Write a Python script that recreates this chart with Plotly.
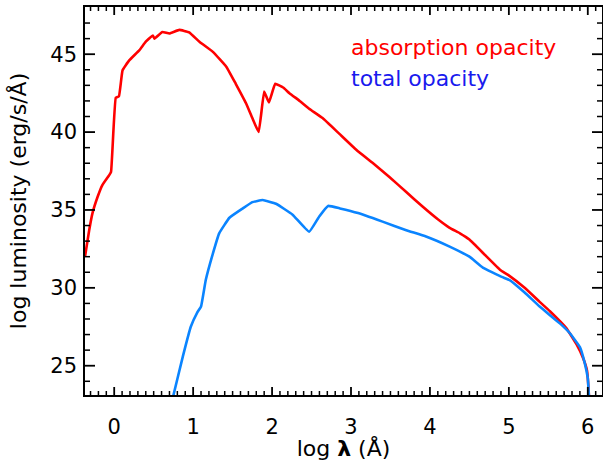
import numpy as np
import plotly.graph_objects as go

# absorption opacity (red)
abs_x = [-0.37, -0.317, -0.275, -0.21, -0.15, -0.063, -0.04, 0.02, 0.06, 0.106, 0.19, 0.32, 0.40,
         0.49, 0.51, 0.61, 0.70, 0.825, 0.95, 1.08, 1.25, 1.42, 1.54, 1.67, 1.75, 1.83, 1.90, 1.96,
         2.04, 2.14, 2.22, 2.35, 2.47, 2.64, 2.85, 3.07, 3.28, 3.49, 3.70, 3.91, 4.10, 4.25, 4.38,
         4.50, 4.70, 4.89, 4.99, 5.20, 5.39, 5.52, 5.73, 5.86, 5.94, 5.99, 6.01, 6.02]
abs_y = [32.0, 33.7, 34.8, 35.85, 36.6, 37.24, 37.45, 42.2, 42.3, 43.97, 44.6, 45.26, 45.8,
         46.2, 46.0, 46.43, 46.33, 46.56, 46.4, 45.8, 45.15, 44.2, 43.1, 41.85, 40.9, 40.0, 42.6, 41.9,
         43.1, 42.86, 42.5, 42.0, 41.5, 40.9, 39.9, 38.85, 38.0, 37.1, 36.15, 35.2, 34.4, 33.85, 33.5,
         33.1, 32.1, 31.15, 30.83, 30.0, 29.1, 28.5, 27.4, 26.35, 25.5, 24.7, 23.5, 22.5]

# total opacity (blue)
tot_x = [0.72, 0.75, 0.87, 0.97, 1.05, 1.10, 1.16, 1.25, 1.33, 1.46, 1.63, 1.75, 1.88, 2.05, 2.26,
         2.47, 2.60, 2.71, 2.86, 3.09, 3.40, 3.70, 3.95, 4.25, 4.50, 4.67, 4.91, 5.01, 5.20, 5.39,
         5.65, 5.77, 5.90, 5.96, 6.00, 6.02]
tot_y = [22.5, 23.1, 25.6, 27.5, 28.4, 28.8, 30.5, 32.2, 33.5, 34.5, 35.1, 35.5, 35.64, 35.4, 34.7,
         33.6, 34.6, 35.26, 35.1, 34.8, 34.25, 33.7, 33.3, 32.65, 32.0, 31.3, 30.7, 30.5, 29.7, 28.8,
         27.7, 27.1, 26.2, 25.2, 24.2, 22.5]

x_ticks = [0, 1, 2, 3, 4, 5, 6]
y_ticks = [25, 30, 35, 40, 45]

X_RANGE = [-0.37, 6.18]
Y_RANGE = [23.12, 48.03]
W, H = 603, 461
M = dict(l=85, r=1, t=7, b=66)
PW = W - M["l"] - M["r"]
PH = H - M["t"] - M["b"]

FONT = "DejaVu Sans"

fig = go.Figure()
fig.add_trace(go.Scatter(x=abs_x, y=abs_y, mode="lines",
                         line=dict(color="#ff0000", width=2.6, shape="spline", smoothing=0.3),
                         showlegend=False))
fig.add_trace(go.Scatter(x=tot_x, y=tot_y, mode="lines",
                         line=dict(color="#0a84ff", width=2.6, shape="spline", smoothing=0.3),
                         showlegend=False))

fig.add_annotation(x=2.98, y=45.4, xref="x", yref="y", text="absorption opacity",
                   showarrow=False, xanchor="left", yanchor="middle",
                   font=dict(family=FONT, size=22, color="#ff0000"))
fig.add_annotation(x=2.98, y=43.45, xref="x", yref="y", text="total opacity",
                   showarrow=False, xanchor="left", yanchor="middle",
                   font=dict(family=FONT, size=22, color="#1a1aee"))

# tick marks (inside the frame, all four sides) drawn as line traces
x_minor = [float(v) for v in np.round(np.arange(-0.3, 6.15, 0.1), 2) if v not in x_ticks]
y_minor = [v for v in range(24, 48) if v not in y_ticks]
ypx = (Y_RANGE[1] - Y_RANGE[0]) / PH
xpx = (X_RANGE[1] - X_RANGE[0]) / PW


def tick_segments(xvals, xlen, yvals, ylen):
    tx, ty = [], []
    for v in xvals:
        tx += [v, v, None, v, v, None]
        ty += [Y_RANGE[0], Y_RANGE[0] + xlen * ypx, None,
               Y_RANGE[1], Y_RANGE[1] - xlen * ypx, None]
    for v in yvals:
        tx += [X_RANGE[0], X_RANGE[0] + ylen * xpx, None,
               X_RANGE[1], X_RANGE[1] - ylen * xpx, None]
        ty += [v, v, None, v, v, None]
    return tx, ty


for xv, xl, yv, yl, w in ((x_ticks, 8, y_ticks, 10, 1.8), (x_minor, 4, y_minor, 5, 1.5)):
    tx, ty = tick_segments(xv, xl, yv, yl)
    fig.add_trace(go.Scatter(x=tx, y=ty, mode="lines", line=dict(color="black", width=w),
                             hoverinfo="skip", showlegend=False))

fig.update_layout(
    width=W, height=H,
    margin=M,
    paper_bgcolor="white", plot_bgcolor="white",
    font=dict(family=FONT, size=21, color="black"),
    xaxis=dict(range=X_RANGE, tickmode="array", tickvals=x_ticks, ticks="",
               showgrid=False, zeroline=False, showline=True,
               linecolor="black", linewidth=1.6, mirror=True, automargin=False,
               ticklabelstandoff=12,
               title=dict(text="log <b>λ</b> (Å)", standoff=3, font=dict(size=22))),
    yaxis=dict(range=Y_RANGE, tickmode="array", tickvals=y_ticks, ticks="",
               showgrid=False, zeroline=False, showline=True,
               linecolor="black", linewidth=1.6, mirror=True, automargin=False,
               ticklabelstandoff=2,
               title=dict(text="log luminosity (erg/s/Å)", standoff=18, font=dict(size=22))),
)

fig.write_html("out.html", config={"responsive": False, "displayModeBar": False},
               post_script="document.body.style.margin='0px';document.body.style.overflow='hidden';")
